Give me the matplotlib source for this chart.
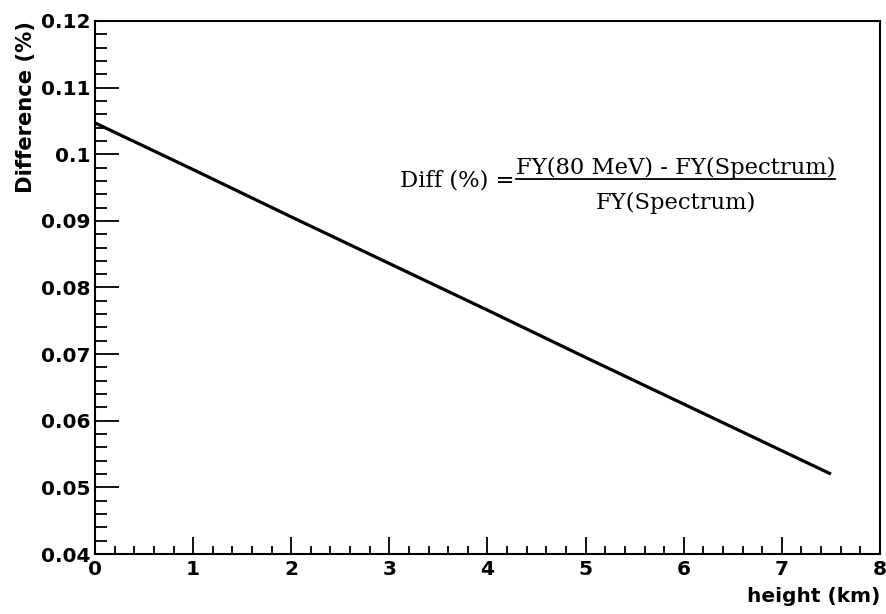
import numpy as np
import matplotlib
matplotlib.use("Agg")
import matplotlib.pyplot as plt
from matplotlib.ticker import MultipleLocator
from matplotlib.lines import Line2D

# height (km) vs difference (%)
height_km = [0.0, 1.0, 2.0, 3.0, 4.0, 5.0, 6.0, 7.0, 7.5]
diff_pct = [0.1047, 0.0977, 0.0906, 0.0836, 0.0766, 0.0695, 0.0625, 0.0555, 0.0520]

x_label = "height (km)"
y_label = "Difference (%)"

plt.rcParams['font.family'] = ['DejaVu Sans']

fig = plt.figure(figsize=(8.87, 6.14), dpi=100)
ax = fig.add_axes([95/887, 1-554/614, 785/887, 533/614])

ax.plot(height_km, diff_pct, color='black', lw=2.3, solid_capstyle='butt')

ax.set_xlim(0, 8)
ax.set_ylim(0.04, 0.12)
ax.xaxis.set_major_locator(MultipleLocator(1))
ax.xaxis.set_minor_locator(MultipleLocator(0.2))
ax.yaxis.set_major_locator(MultipleLocator(0.01))
ax.yaxis.set_minor_locator(MultipleLocator(0.002))
ax.yaxis.set_major_formatter(plt.FuncFormatter(lambda v, p: ('%.2f' % v).rstrip('0').rstrip('.')))

ax.tick_params(which='both', direction='in', top=False, right=False, width=1.3)
ax.tick_params(axis='y', which='major', length=17, labelsize=14.5, pad=3)
ax.tick_params(axis='y', which='minor', length=8.5)
ax.tick_params(axis='x', which='major', length=12, labelsize=14.5, pad=4)
ax.tick_params(axis='x', which='minor', length=6)
for lab in ax.get_xticklabels() + ax.get_yticklabels():
    lab.set_fontweight('bold')
for s in ax.spines.values():
    s.set_linewidth(1.5)

ax.set_xlabel(x_label, fontsize=14.5, fontweight='bold', loc='right', labelpad=6)
ax.set_ylabel(y_label, fontsize=15.2, fontweight='bold', loc='top', labelpad=4)

# formula
serif = ['DejaVu Serif']
fig.text(514/887, 1-186/614, "Diff (%) =", family=serif, fontsize=16.3, ha='right', va='baseline')
fig.text(676/887, 1-174/614, "FY(80 MeV) - FY(Spectrum)", family=serif, fontsize=16.3, ha='center', va='baseline')
fig.text(676/887, 1-209/614, "FY(Spectrum)", family=serif, fontsize=16.3, ha='center', va='baseline')
fig.add_artist(Line2D([516/887, 835/887], [1-179/614, 1-179/614], color='black', lw=1.3, transform=fig.transFigure))

fig.savefig("out.png", dpi=100)
